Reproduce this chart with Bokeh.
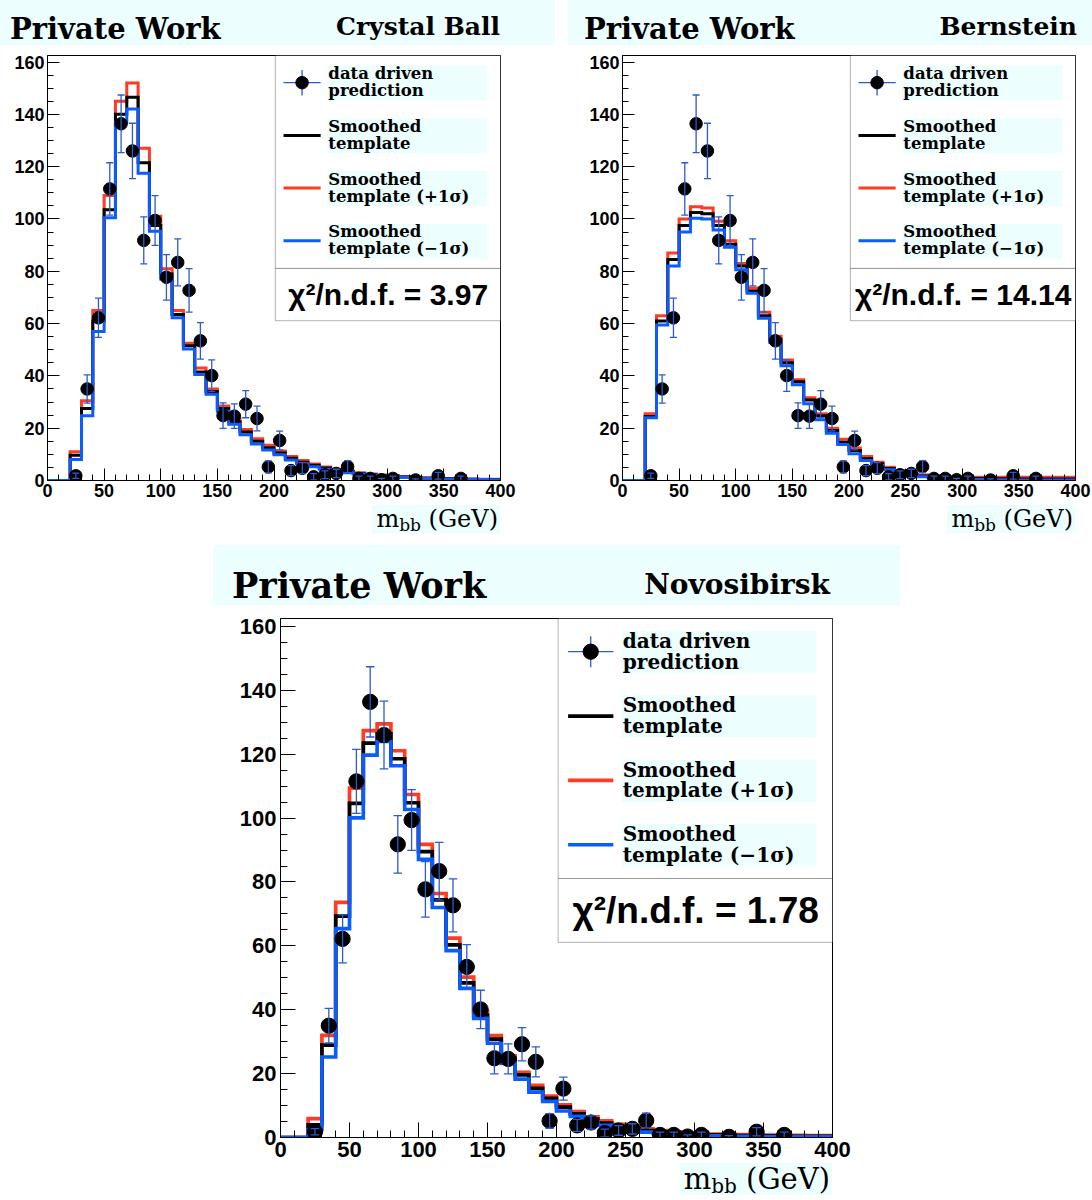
from bokeh.plotting import figure
from bokeh.layouts import column, row
from bokeh.models import (Range1d, SingleIntervalTicker, Label, BoxAnnotation, Whisker,
                          TeeHead, ColumnDataSource, Div, Spacer)
from bokeh.embed import file_html
from bokeh.resources import INLINE

# ---------------- data ----------------
BIN_EDGES = list(range(0, 410, 10))

CB_NOM = [0, 0, 9.7, 27.5, 61, 103.5, 140, 146.5, 121.5, 97.5, 79, 63.5, 51.5, 41.5, 34, 27.5,
          22.5, 18.5, 15, 12.5, 10.5, 8.5, 7, 5.8, 4.8, 4, 3.3, 2.7, 2.3, 1.9, 1.6, 1.3, 1.1,
          0.9, 0.8, 0.7, 0.6, 0.5, 0.4, 0.4]
CB_UP = [0, 0, 11, 30.5, 65, 109, 145, 152, 127, 101, 81, 65, 52.5, 43, 35, 28.5, 23.5, 19.5,
         16, 13.5, 11.3, 9.2, 7.6, 6.3, 5.2, 4.3, 3.6, 3, 2.5, 2.1, 1.8, 1.5, 1.25, 1.05, 0.9,
         0.8, 0.7, 0.6, 0.5, 0.5]
CB_DOWN = [0, 0, 8, 24.8, 57, 100.5, 137, 142, 117.5, 95.3, 77, 62.2, 50.3, 40.5, 33, 26.5,
           21.5, 17.5, 14, 11.7, 9.8, 7.8, 6.4, 5.3, 4.3, 3.6, 3, 2.5, 2.1, 1.7, 1.4, 1.2, 1,
           0.8, 0.7, 0.6, 0.5, 0.4, 0.35, 0.3]

BE_NOM = [0, 0, 24.5, 61, 84.5, 97.5, 102.5, 102, 97.5, 90.3, 82, 72.5, 63, 54, 45, 37.8, 30.8,
          24.8, 19.1, 14.6, 11.5, 8.3, 6.4, 4.6, 3.3, 2.4, 1.7, 1.3, 1.0, 0.9, 0.8, 0.8, 0.7,
          0.7, 0.7, 0.6, 0.6, 0.6, 0.6, 0.6]
BE_UP = [0, 0, 25.5, 63, 87, 100, 104.7, 104.2, 99.1, 91.7, 83, 73.6, 64.3, 55.2, 46.1, 38.5,
         31.6, 25.5, 20, 15.8, 12.4, 9.2, 7, 5.1, 3.8, 2.8, 2.1, 1.6, 1.4, 1.3, 1.2, 1.2, 1.2,
         1.2, 1.2, 1.2, 1.2, 1.2, 1.2, 1.2]
BE_DOWN = [0, 0, 24, 59.5, 82, 95, 100.3, 100, 95.8, 89.2, 80.6, 71.6, 62, 52.9, 43.9, 36.6,
           29.3, 23.2, 18.1, 13.8, 10.2, 7.6, 5.7, 4.1, 2.9, 2.0, 1.4, 1.0, 0.7, 0.5, 0.4, 0.4,
           0.3, 0.3, 0.3, 0.2, 0.2, 0.2, 0.2, 0.2]

NO_NOM = [0, 0, 4, 28.9, 69.3, 104.6, 123.5, 126.4, 118.6, 104.8, 89.5, 74.4, 60.3, 48.4, 38.3,
          30.8, 24.8, 19.6, 15.4, 12.3, 9.5, 7.4, 5.8, 4.5, 3.5, 2.8, 2.2, 1.7, 1.3, 1.1, 0.9,
          0.8, 0.7, 0.6, 0.55, 0.5, 0.45, 0.4, 0.4, 0.35]
NO_UP = [0, 0, 5.9, 32, 73.6, 109.4, 127.4, 129.5, 121.1, 107.4, 91.8, 76.4, 62.4, 50.2, 39.4,
         31.9, 25.6, 20.4, 16.3, 13, 10.2, 8.1, 6.5, 5.2, 4.1, 3.3, 2.7, 2.2, 1.8, 1.5, 1.3,
         1.1, 1.0, 0.9, 0.8, 0.75, 0.7, 0.65, 0.6, 0.6]
NO_DOWN = [0, 0, 2.5, 25.2, 65.4, 100.1, 119.7, 124, 116.4, 102.7, 87.1, 72, 58.5, 46.7, 37.3,
           29.5, 23.2, 18.3, 14.2, 11.3, 8.3, 6.6, 5, 3.8, 2.9, 2.3, 1.7, 1.3, 1, 0.8, 0.6,
           0.5, 0.4, 0.35, 0.3, 0.3, 0.25, 0.2, 0.2, 0.2]

DATA_X = [25, 35, 45, 55, 65, 75, 85, 95, 105, 115, 125, 135, 145, 155, 165, 175, 185, 195,
          205, 215, 225, 235, 245, 255, 265, 275, 285, 295, 305, 325, 345, 365]
DATA_Y = [1.8, 35, 62.2, 111.5, 136.4, 126, 91.8, 99.4, 77.7, 83.4, 72.7, 53.4, 40.1, 24.8,
          24.6, 29.2, 23.7, 5.2, 15.3, 3.8, 4.7, 1.4, 2.2, 2.7, 5.3, 0.8, 0.8, 0.3, 0.8, 0.2,
          1.8, 0.8]
DATA_ERR = [1, 5.4, 7.5, 10, 11, 10.6, 9, 9.5, 8.7, 9, 8.3, 7, 6, 4.9, 4.7, 5.2, 4.7, 2.3, 3.6,
            1.9, 2.1, 1.2, 1.5, 1.6, 2.3, 0.9, 0.9, 0.5, 0.9, 0.4, 1.3, 0.9]

FIT_NAMES = ["Crystal Ball", "Bernstein", "Novosibirsk"]
CHI2 = ["3.97", "14.14", "1.78"]

LEGEND_LINES = [("data driven", "prediction"), ("Smoothed", "template"),
                ("Smoothed", "template (+1σ)"), ("Smoothed", "template (−1σ)")]

# ---------------- style ----------------
RED = "#ff3b22"
BLUE = "#0a5cff"
ERRC = "#2c5ad2"
CYAN = "#ecfefe"
X_RANGE = (0, 400)
Y_RANGE = (0, 162.5)


def fx(f):
    return X_RANGE[0] + f * (X_RANGE[1] - X_RANGE[0])


def fy(f):
    return Y_RANGE[0] + f * (Y_RANGE[1] - Y_RANGE[0])


def make_fig(nom, up, down, chi2, fw, fh, left, right, top, bottom, s):
    p = figure(frame_width=fw, frame_height=fh, min_border_left=left, min_border_right=right,
               min_border_top=top, min_border_bottom=bottom,
               x_range=Range1d(*X_RANGE), y_range=Range1d(*Y_RANGE),
               toolbar_location=None, tools="", output_backend="svg")
    p.xgrid.visible = False
    p.ygrid.visible = False
    p.outline_line_color = "black"
    p.outline_line_width = 1
    p.outline_line_alpha = 1
    p.background_fill_color = "white"
    p.border_fill_color = "white"
    for ax, tk in ((p.xaxis[0], SingleIntervalTicker(interval=50, num_minor_ticks=5)),
                   (p.yaxis[0], SingleIntervalTicker(interval=20, num_minor_ticks=4))):
        ax.ticker = tk
        ax.major_tick_in = int(round(12 * s))
        ax.major_tick_out = 0
        ax.minor_tick_in = int(round(6 * s))
        ax.minor_tick_out = 0
        ax.major_label_text_font = "Liberation Sans"
        ax.major_label_text_font_style = "bold"
        ax.major_label_text_font_size = f"{18 * s:.0f}px"
        ax.major_label_text_color = "black"
        ax.axis_line_color = "black"
        ax.major_tick_line_color = "black"
        ax.minor_tick_line_color = "black"
        ax.major_label_standoff = int(round(3 * s))

    # legend + chi2 boxes (underlay so that legend symbols stay visible)
    p.add_layout(BoxAnnotation(left=fx(0.503), right=fx(1.0), bottom=fy(0.499), top=fy(1.0),
                               fill_color="white", fill_alpha=1, line_color="black",
                               line_width=1, level="underlay"))
    p.add_layout(BoxAnnotation(left=fx(0.503), right=fx(1.0), bottom=fy(0.376), top=fy(0.499),
                               fill_color="white", fill_alpha=1, line_color="black",
                               line_width=1, level="underlay"))

    # histograms
    for vals, col in ((up, RED), (nom, "black"), (down, BLUE)):
        p.step(x=BIN_EDGES, y=list(vals) + [vals[-1]], mode="after", line_color=col,
               line_width=3 * s, line_join="miter")

    # data points with errors
    src = ColumnDataSource(dict(x=DATA_X, y=DATA_Y,
                                lo=[v - e for v, e in zip(DATA_Y, DATA_ERR)],
                                hi=[v + e for v, e in zip(DATA_Y, DATA_ERR)]))
    p.add_layout(Whisker(source=src, base="x", lower="lo", upper="hi", line_color=ERRC,
                         line_width=1.3, level="glyph",
                         upper_head=TeeHead(size=7 * s, line_color=ERRC, line_width=1.3),
                         lower_head=TeeHead(size=7 * s, line_color=ERRC, line_width=1.3)))
    p.scatter(x="x", y="y", source=src, size=12.5 * s, color="black")

    # legend entries
    cy = [0.936 - 0.124 * k for k in range(4)]
    for k, (l1, l2) in enumerate(LEGEND_LINES):
        p.add_layout(BoxAnnotation(left=fx(0.618), right=fx(0.971), bottom=fy(cy[k] - 0.042),
                                   top=fy(cy[k] + 0.04), fill_color=CYAN, fill_alpha=1,
                                   line_color=None, level="underlay"))
        for txt, off in ((l1, 0.021), (l2, -0.019)):
            p.add_layout(Label(x=fx(0.62), y=fy(cy[k] + off), text=txt,
                               text_font="DejaVu Serif", text_font_style="bold",
                               text_font_size=f"{16.5 * s:.1f}px", text_baseline="middle",
                               text_color="black"))
    # symbols
    p.segment(x0=[fx(0.521)], y0=[fy(cy[0])], x1=[fx(0.603)], y1=[fy(cy[0])],
              line_color=ERRC, line_width=1.3)
    p.segment(x0=[fx(0.562)], y0=[fy(cy[0] - 0.03)], x1=[fx(0.562)], y1=[fy(cy[0] + 0.03)],
              line_color=ERRC, line_width=1.3)
    p.scatter(x=[fx(0.562)], y=[fy(cy[0])], size=12.5 * s, color="black")
    p.segment(x0=[fx(0.521)] * 3, y0=[fy(c) for c in cy[1:]], x1=[fx(0.603)] * 3,
              y1=[fy(c) for c in cy[1:]], line_color=["black", RED, BLUE], line_width=3 * s)

    p.add_layout(Label(x=fx(0.752), y=fy(0.437), text=f"χ²/n.d.f. = {chi2}",
                       text_font="Liberation Sans", text_font_style="bold",
                       text_font_size=f"{30 * s:.0f}px", text_align="center",
                       text_baseline="middle", text_color="black"))
    return p


def band(w, h, left_pos, right_pos, big, small):
    html = (f'<div style="position:relative;width:{w}px;height:{h}px;background:{CYAN};'
            f'font-family:\'DejaVu Serif\';font-weight:bold;color:#000;overflow:hidden">'
            f'<span style="position:absolute;left:{left_pos[0]}px;top:{left_pos[1]}px;'
            f'font-size:{big}px;line-height:1;white-space:nowrap">Private Work</span>'
            f'<span style="position:absolute;right:{right_pos[0]}px;top:{right_pos[1]}px;'
            f'font-size:{small}px;line-height:1;white-space:nowrap">{right_pos[2]}</span></div>')
    return Div(text=html, width=w, height=h, margin=0)


def xlabel(w, h, right, fs, lh):
    html = (f'<div style="position:relative;width:{w}px;height:{h}px">'
            f'<span style="position:absolute;right:{right}px;top:0;background:{CYAN};'
            f'font-family:\'DejaVu Serif\';font-size:{fs}px;line-height:{lh}px;color:#000;'
            f'padding:0 2px 0 4px;white-space:nowrap">m<span style="font-size:{fs * 0.7:.0f}px;'
            f'vertical-align:-0.22em;line-height:0">bb</span>&nbsp;(GeV)</span></div>')
    return Div(text=html, width=w, height=h, margin=0)


f1 = make_fig(CB_NOM, CB_UP, CB_DOWN, CHI2[0], 453, 425, 47, 68, 10, 25, 1.0)
f2 = make_fig(BE_NOM, BE_UP, BE_DOWN, CHI2[1], 453, 425, 54, 17, 10, 25, 1.0)
f3 = make_fig(NO_NOM, NO_UP, NO_DOWN, CHI2[2], 552, 519, 67, 68, 13, 26, 1.22)

col1 = column(band(555, 45, (10, 15), (55, 14, FIT_NAMES[0]), 29, 25), f1,
              xlabel(568, 40, 68, 24, 28), spacing=0)
col2 = column(band(524, 45, (16, 15), (15, 14, FIT_NAMES[1]), 29, 25), f2,
              xlabel(524, 40, 17, 24, 28), spacing=0)
col3 = column(band(687, 60, (19, 23), (70, 26, FIT_NAMES[2]), 35, 28), f3,
              xlabel(687, 34, 68, 29, 32), spacing=0)

root = column(row(col1, col2, spacing=0), row(Spacer(width=213, height=10), col3, spacing=0),
              spacing=0)

open("out.html", "w").write(file_html(root, INLINE))
